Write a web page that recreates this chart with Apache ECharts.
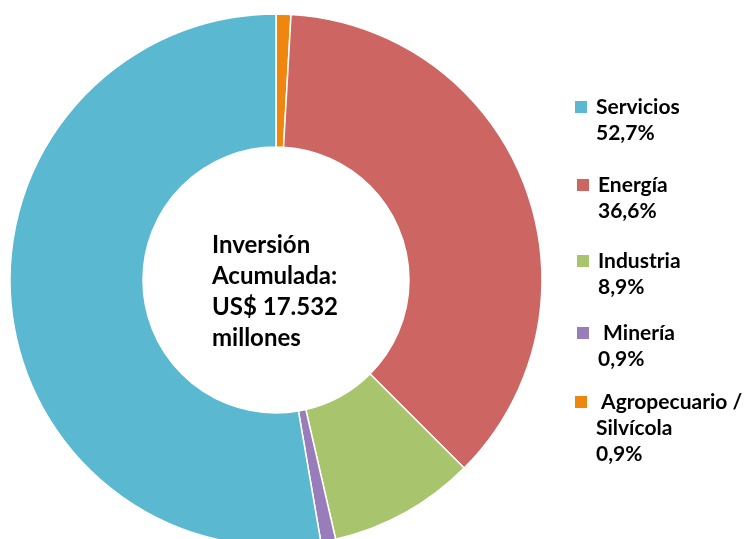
<!DOCTYPE html>
<html>
<head>
<meta charset="utf-8">
<script src="https://cdn.jsdelivr.net/npm/echarts@6/dist/echarts.min.js"></script>
<style>
html,body{margin:0;padding:0;background:#fff;}
#main{width:747px;height:539px;}
</style>
</head>
<body>
<div id="main"></div>
<script>
// Data (clockwise from 12 o'clock)
var categories = ['Agropecuario / Silvícola', 'Energía', 'Industria', 'Minería', 'Servicios'];
var values = [0.9, 36.6, 8.9, 0.9, 52.7];
var colors = ['#ef8610', '#cd6662', '#a8c46c', '#987dba', '#5bb8d1'];
// Legend order (top to bottom) and label lines
var legendOrder = ['Servicios', 'Energía', 'Industria', 'Minería', 'Agropecuario / Silvícola'];
var legendLines = {
  'Servicios': ['Servicios'],
  'Energía': ['Energía'],
  'Industria': ['Industria'],
  'Minería': [' Minería'],
  'Agropecuario / Silvícola': [' Agropecuario /', 'Silvícola']
};
var centerLines = ['Inversión', 'Acumulada:', 'US$ 17.532', 'millones'];

var FONT = 'Lato, "Open Sans", sans-serif';
var LH = 26;
var SQ = 12;
var firstLineCenters = [107, 185, 261, 333, 402];
var iconLefts = [575, 577, 577, 577, 575];

function pct(name) {
  var v = values[categories.indexOf(name)];
  return v.toFixed(1).replace('.', ',') + '%';
}

var legends = legendOrder.map(function (name, i) {
  var n = legendLines[name].length + 1;
  var H = SQ + (n - 1) * LH;
  var blockCenter = firstLineCenters[i] + (n - 1) * LH / 2;
  return {
    orient: 'vertical',
    left: iconLefts[i],
    top: blockCenter - n * LH / 2,
    padding: 0,
    itemWidth: SQ,
    itemHeight: H,
    selectedMode: false,
    itemStyle: {borderWidth: 0},
    data: [{
      name: name,
      icon: 'path://M0,0h' + SQ + 'v' + SQ + 'h-' + SQ + 'z M5,' + H + 'h0.01v0.01h-0.01z'
    }],
    formatter: function (nm) {
      return legendLines[nm].concat([pct(nm)]).join('\n');
    },
    textStyle: {
      fontFamily: FONT,
      fontWeight: 'bold',
      fontSize: 21,
      lineHeight: LH,
      color: '#000',
      padding: [0, 0, 0, 4]
    }
  };
});

var chart = echarts.init(document.getElementById('main'), null, {renderer: 'canvas'});
chart.setOption({
  animation: false,
  color: colors,
  legend: legends,
  graphic: [{
    type: 'text',
    left: 212,
    top: 230,
    style: {
      text: centerLines.join('\n'),
      font: 'bold 24px ' + FONT,
      lineHeight: 31,
      fill: '#000',
      align: 'left'
    }
  }],
  series: [{
    type: 'pie',
    center: [276, 280],
    radius: [133, 266],
    startAngle: 90,
    clockwise: true,
    avoidLabelOverlap: false,
    label: {show: false},
    labelLine: {show: false},
    emphasis: {disabled: true},
    itemStyle: {borderColor: '#fff', borderWidth: 1.5},
    data: categories.map(function (c, i) {
      return {name: c, value: values[i], itemStyle: {color: colors[i]}};
    })
  }]
});
</script>
</body>
</html>
